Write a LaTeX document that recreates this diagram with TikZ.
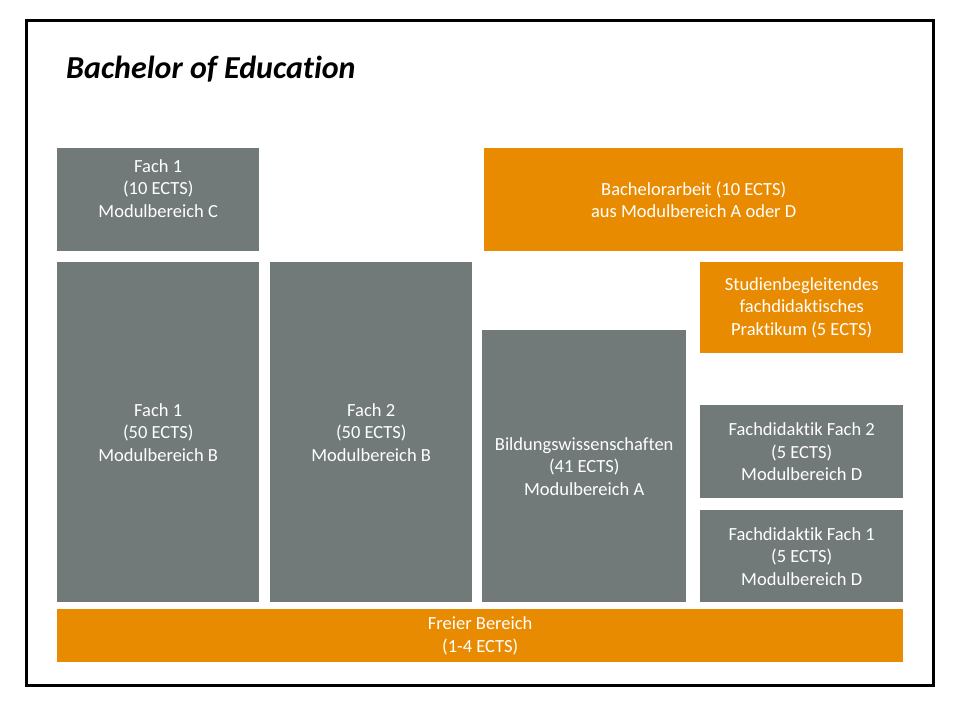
\documentclass[tikz,border=0pt]{standalone}
\usepackage{fontspec}
\setmainfont{Carlito}[Ligatures=NoCommon]
\definecolor{fachgray}{RGB}{113,122,120}
\definecolor{arbeitorange}{RGB}{233,139,0}

\begin{document}
\begin{tikzpicture}
[
x=1pt,y=-1pt,
modul/.style 2 args={fill=fachgray,text=white,anchor=north west,inner sep=0pt,align=center,
            minimum width=#1,minimum height=#2,font=\fontsize{18.5}{22.5}\selectfont},
orangemodul/.style 2 args={modul={#1}{#2},fill=arbeitorange},
]
\useasboundingbox (0,0) rectangle (959,720);

%Draw the frame and the title
\draw[line width=3pt] (26,20) rectangle (933,685);
\node[anchor=base west,inner sep=0pt,font=\fontsize{32}{38}\selectfont\bfseries\itshape] (title) at (66,78) {Bachelor of Education};

%Place the modules
\node[modul={202pt}{103pt}] (fach1c) at (57,148) {Fach 1\\(10 ECTS)\\Modulbereich C\\\mbox{}};
\node[orangemodul={419pt}{103pt}] (arbeit) at (484,148) {Bachelorarbeit (10 ECTS)\\aus Modulbereich A oder D};
\node[modul={202pt}{340pt}] (fach1b) at (57,262) {Fach 1\\(50 ECTS)\\Modulbereich B};
\node[modul={202pt}{340pt}] (fach2b) at (270,262) {Fach 2\\(50 ECTS)\\Modulbereich B};
\node[modul={204pt}{272pt}] (bildung) at (482,330) {Bildungswissenschaften\\(41 ECTS)\\Modulbereich A};
\node[orangemodul={203pt}{91pt}] (praktikum) at (700,262) {Studienbegleitendes\\fachdidaktisches\\Praktikum (5 ECTS)};
\node[modul={203pt}{93pt}] (fd2) at (700,405) {Fachdidaktik Fach 2\\(5 ECTS)\\Modulbereich D};
\node[modul={203pt}{92pt}] (fd1) at (700,510) {Fachdidaktik Fach 1\\(5 ECTS)\\Modulbereich D};
\node[orangemodul={846pt}{53pt}] (frei) at (57,609) {Freier Bereich\\(1-4 ECTS)};
\end{tikzpicture}
\end{document}
